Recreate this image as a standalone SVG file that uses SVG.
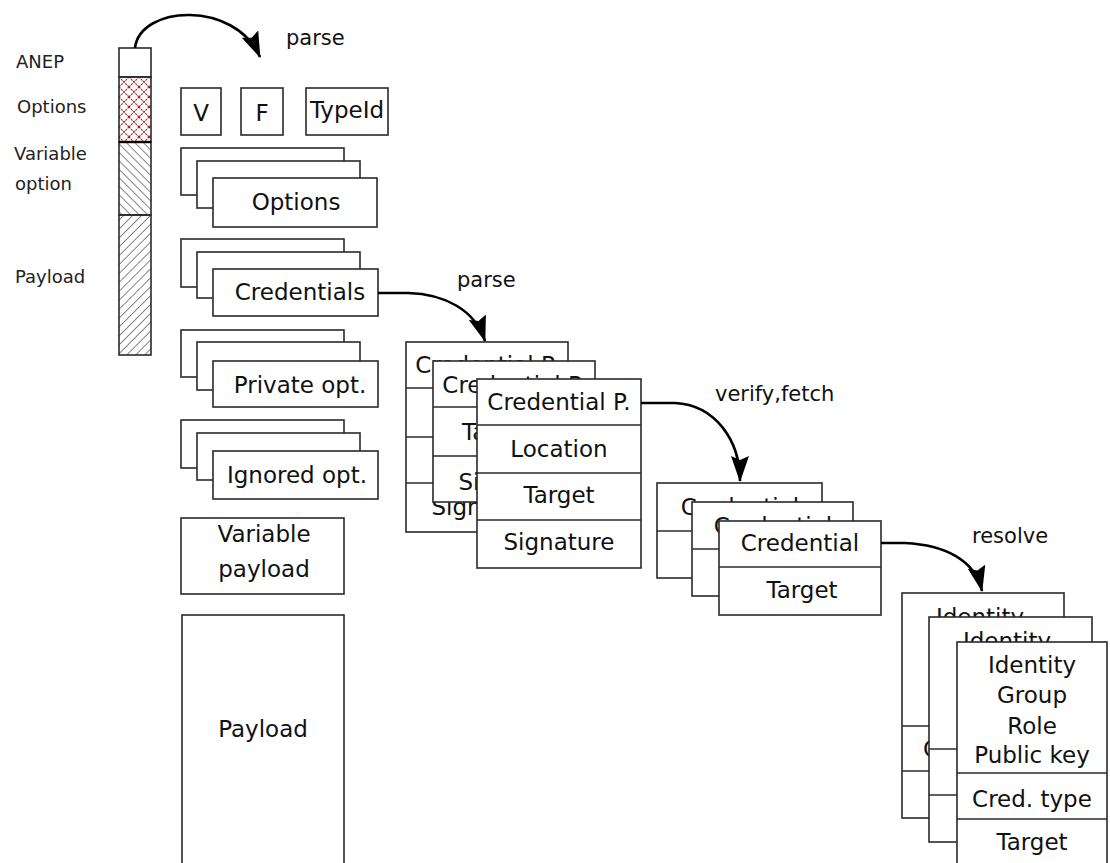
<svg xmlns="http://www.w3.org/2000/svg" width="1110" height="863" viewBox="0 0 1110 863">
  <defs>
    <style>
      .box { fill: #fff; stroke: #2a2a2a; stroke-width: 1.6; }
      .sep { fill: none; stroke: #2a2a2a; stroke-width: 1.6; }
      .t { font-family: "DejaVu Sans", "Liberation Sans", sans-serif; font-size: 23px; fill: #111; text-anchor: middle; }
      .ts { text-anchor: start; }
      .side { font-family: "DejaVu Sans", "Liberation Sans", sans-serif; font-size: 18px; fill: #222; }
      .lbl { font-family: "DejaVu Sans", "Liberation Sans", sans-serif; font-size: 21px; fill: #111; }
      .flow { fill: none; stroke: #000; stroke-width: 2.6; marker-end: url(#head); }
    </style>
    <marker id="head" viewBox="0 0 26 18" refX="25" refY="9" markerWidth="26" markerHeight="18" markerUnits="userSpaceOnUse" orient="auto">
      <path d="M0,0 L26,9 L0,18 L4,9 z" fill="#000"/>
    </marker>
    <pattern id="cross" patternUnits="userSpaceOnUse" x="119" y="77" width="10" height="10">
      <path d="M0,0 L10,10 M10,0 L0,10" stroke="#a41818" stroke-width="1.1" stroke-dasharray="2,1"/>
    </pattern>
    <pattern id="back" patternUnits="userSpaceOnUse" width="6" height="6" patternTransform="rotate(-45)">
      <line x1="0" y1="0" x2="0" y2="6" stroke="#222" stroke-width="1.1"/>
    </pattern>
    <pattern id="fwd" patternUnits="userSpaceOnUse" width="6.3" height="6.3" patternTransform="rotate(45)">
      <line x1="0" y1="0" x2="0" y2="6.3" stroke="#222" stroke-width="1.1"/>
    </pattern>
    <!-- visible parts of the cards that sit behind others -->
    <clipPath id="cp-back">
      <rect x="406" y="342" width="162" height="19"/>
      <rect x="406" y="342" width="27" height="190"/>
      <rect x="433" y="502" width="44" height="30"/>
    </clipPath>
    <clipPath id="cp-mid">
      <rect x="433" y="361" width="162" height="18"/>
      <rect x="433" y="361" width="44" height="141"/>
    </clipPath>
    <clipPath id="cr-back">
      <rect x="657" y="483" width="165" height="19"/>
      <rect x="657" y="483" width="35" height="95"/>
    </clipPath>
    <clipPath id="cr-mid">
      <rect x="692" y="502" width="161" height="19"/>
      <rect x="692" y="502" width="27" height="94"/>
    </clipPath>
    <clipPath id="id-back">
      <rect x="902" y="593" width="162" height="24"/>
      <rect x="902" y="593" width="27" height="225"/>
    </clipPath>
    <clipPath id="id-mid">
      <rect x="929" y="617" width="163" height="25"/>
      <rect x="929" y="617" width="28" height="225"/>
    </clipPath>
  </defs>

  <rect width="1110" height="863" fill="#fff"/>

  <!-- packet bar with its segment labels -->
  <g id="packet">
    <rect x="119" y="48" width="32" height="29" class="box"/>
    <rect x="119" y="77" width="32" height="65" fill="url(#cross)" stroke="#2a2a2a" stroke-width="1.6"/>
    <rect x="119" y="142" width="32" height="73" fill="url(#back)" stroke="#2a2a2a" stroke-width="1.6"/>
    <rect x="119" y="215" width="32" height="140" fill="url(#fwd)" stroke="#2a2a2a" stroke-width="1.6"/>
    <line x1="119" y1="142" x2="151" y2="142" stroke="#000" stroke-width="2.4"/>
    <text class="side" x="16" y="68">ANEP</text>
    <text class="side" x="17" y="113">Options</text>
    <text class="side" x="14" y="160">Variable</text>
    <text class="side" x="15" y="190">option</text>
    <text class="side" x="15" y="283">Payload</text>
  </g>

  <!-- header fields -->
  <g id="field-v">
    <rect x="181" y="88" width="40" height="47" class="box"/>
    <text class="t" x="201" y="121">V</text>
  </g>
  <g id="field-f">
    <rect x="241" y="88" width="42" height="47" class="box"/>
    <text class="t" x="262" y="121">F</text>
  </g>
  <g id="field-typeid">
    <rect x="306" y="88" width="82" height="47" class="box"/>
    <text class="t" x="347" y="118">TypeId</text>
  </g>

  <!-- option stacks -->
  <g id="options">
    <rect x="181" y="148" width="163" height="47" class="box"/>
    <rect x="197" y="161" width="163" height="47" class="box"/>
    <rect x="213" y="178" width="164" height="49" class="box"/>
    <text class="t" x="296" y="210">Options</text>
  </g>
  <g id="credentials">
    <rect x="181" y="239" width="163" height="48" class="box"/>
    <rect x="197" y="252" width="163" height="46" class="box"/>
    <rect x="213" y="269" width="165" height="47" class="box"/>
    <text class="t" x="300" y="300">Credentials</text>
  </g>
  <g id="private-opt">
    <rect x="181" y="330" width="163" height="47" class="box"/>
    <rect x="197" y="342" width="163" height="48" class="box"/>
    <rect x="213" y="361" width="165" height="46" class="box"/>
    <text class="t" x="300" y="393">Private opt.</text>
  </g>
  <g id="ignored-opt">
    <rect x="181" y="420" width="163" height="48" class="box"/>
    <rect x="197" y="433" width="163" height="47" class="box"/>
    <rect x="213" y="451" width="165" height="48" class="box"/>
    <text class="t" x="297" y="483">Ignored opt.</text>
  </g>
  <g id="variable-payload">
    <rect x="181" y="518" width="163" height="76" class="box"/>
    <text class="t" x="264" y="542">Variable</text>
    <text class="t" x="264" y="577">payload</text>
  </g>
  <g id="payload">
    <rect x="182" y="615" width="162" height="252" class="box"/>
    <text class="t" x="263" y="737">Payload</text>
  </g>

  <!-- credential payload stack -->
  <g id="credential-p">
    <rect x="406" y="342" width="162" height="190" class="box"/>
    <path class="sep" d="M406,388 H568 M406,437 H568 M406,483 H568"/>
    <g clip-path="url(#cp-back)">
      <text class="t" x="487" y="373">Credential P.</text>
      <text class="t" x="487" y="515">Signature</text>
    </g>
    <rect x="433" y="361" width="162" height="141" class="box"/>
    <path class="sep" d="M433,407 H595 M433,456 H595"/>
    <g clip-path="url(#cp-mid)">
      <text class="t" x="514" y="393">Credential P.</text>
      <text class="t ts" x="462" y="440">Target</text>
      <text class="t" x="514" y="490">Signature</text>
    </g>
    <rect x="477" y="379" width="164" height="189" class="box"/>
    <path class="sep" d="M477,425 H641 M477,473 H641 M477,520 H641"/>
    <text class="t" x="559" y="410">Credential P.</text>
    <text class="t" x="559" y="457">Location</text>
    <text class="t" x="559" y="503">Target</text>
    <text class="t" x="559" y="550">Signature</text>
  </g>

  <!-- credential stack -->
  <g id="credential">
    <rect x="657" y="483" width="165" height="95" class="box"/>
    <path class="sep" d="M657,531 H822"/>
    <text class="t" x="740" y="515" clip-path="url(#cr-back)">Credential</text>
    <rect x="692" y="502" width="161" height="94" class="box"/>
    <path class="sep" d="M692,549 H853"/>
    <text class="t" x="773" y="534" clip-path="url(#cr-mid)">Credential</text>
    <rect x="719" y="521" width="162" height="94" class="box"/>
    <path class="sep" d="M719,567 H881"/>
    <text class="t" x="800" y="551">Credential</text>
    <text class="t" x="802" y="598">Target</text>
  </g>

  <!-- identity stack -->
  <g id="identity">
    <rect x="902" y="593" width="162" height="225" class="box"/>
    <path class="sep" d="M902,726 H1064 M902,771 H1064"/>
    <g clip-path="url(#id-back)">
      <text class="t" x="980" y="625">Identity</text>
      <text class="t" x="983" y="757">Cred. type</text>
    </g>
    <rect x="929" y="617" width="163" height="225" class="box"/>
    <path class="sep" d="M929,749 H1092 M929,795 H1092"/>
    <text class="t" x="1007" y="649" clip-path="url(#id-mid)">Identity</text>
    <rect x="957" y="642" width="150" height="226" class="box"/>
    <path class="sep" d="M957,773 H1107 M957,819 H1107"/>
    <text class="t" x="1032" y="673">Identity</text>
    <text class="t" x="1032" y="703">Group</text>
    <text class="t" x="1032" y="734">Role</text>
    <text class="t" x="1032" y="763">Public key</text>
    <text class="t" x="1032" y="807">Cred. type</text>
    <text class="t" x="1032" y="850">Target</text>
  </g>

  <!-- processing steps -->
  <g id="connectors">
    <path class="flow" d="M135,48 C140,5 235,0 260,57"/>
    <path class="flow" d="M378,293 L408,293 C445,294 475,310 485,341"/>
    <path class="flow" d="M641,403 L675,403 C715,405 740,440 740,481"/>
    <path class="flow" d="M881,543 L905,543 C945,545 975,560 982,591"/>
    <text class="lbl" x="286" y="45">parse</text>
    <text class="lbl" x="457" y="287">parse</text>
    <text class="lbl" x="715" y="401">verify,fetch</text>
    <text class="lbl" x="972" y="543">resolve</text>
  </g>
</svg>
